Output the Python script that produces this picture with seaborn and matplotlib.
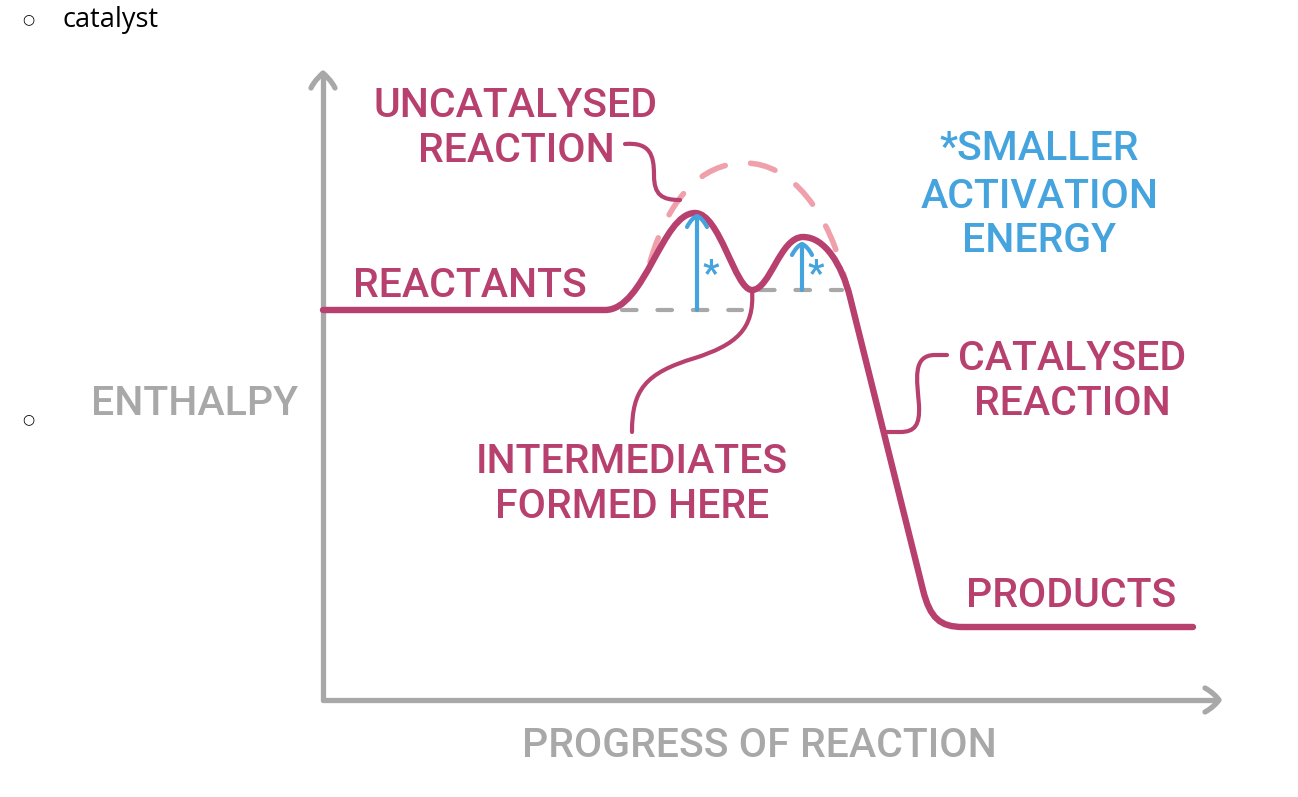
import matplotlib
matplotlib.use("Agg")
import matplotlib.pyplot as plt
import seaborn as sns
import numpy as np
import pandas as pd
from matplotlib.path import Path
from matplotlib.patches import PathPatch

# ---------------- data (picture coordinates, px, y downwards) ----------------
# catalysed reaction profile: key levels
reactant_level = 310
first_peak = (695, 213)
intermediate_dip = (752, 290)
second_peak = (803, 237)
product_level = 627
profile_start_x = 323
profile_end_x = 1193

# uncatalysed (dashed) hump
uncat_start = (650, 262)
uncat_peak = (745, 163)
uncat_end = (847, 288)

# activation-energy arrows (x, base, tip)
arrow_x = [697, 802]
arrow_base = [310, 290]
arrow_tip = [216, 244]

# labels
label_text = ["UNCATALYSED", "REACTION", "REACTANTS", "INTERMEDIATES", "FORMED HERE",
              "CATALYSED", "REACTION", "PRODUCTS"]
label_x = [516, 516, 470, 632, 632, 1072, 1072, 1071]
label_base = [117, 162, 297, 473, 518, 370, 415, 607]

note_text = ["*SMALLER", "ACTIVATION", "ENERGY"]
note_x = [1039, 1040, 1039]
note_base = [160, 208, 252]

axis_text = ["ENTHALPY", "PROGRESS OF REACTION"]
axis_text_x = [195, 759]
axis_text_base = [415, 757]

# ---------------- styles ----------------
MAG = "#b8406e"
PINK = "#f0a0aa"
BLUE = "#45a3dd"
GREY = "#a8a8a8"
FONT = ["Roboto", "DejaVu Sans"]

sns.set_theme(style="white")
plt.rcParams["font.family"] = FONT

fig = plt.figure(figsize=(12.98, 7.97), dpi=100)
ax = fig.add_axes([0, 0, 1, 1])
ax.set_xlim(0, 1298)
ax.set_ylim(797, 0)
ax.axis("off")


def line(xs, ys, color, lw, ls="-", z=2):
    df = pd.DataFrame({"x": xs, "y": ys})
    sns.lineplot(data=df, x="x", y="y", sort=False, estimator=None, color=color,
                 lw=lw, linestyle=ls, solid_capstyle="round", dash_capstyle="round",
                 solid_joinstyle="round", ax=ax, zorder=z)


def bez(verts, codes, color, lw, ls="-", z=3):
    p = PathPatch(Path(verts, codes), facecolor="none", edgecolor=color, lw=lw,
                  linestyle=ls, capstyle="round", joinstyle="round", zorder=z)
    ax.add_patch(p)


M, L, C = Path.MOVETO, Path.LINETO, Path.CURVE4

# ---------------- axes with arrowheads ----------------
line([323, 323], [700, 75], GREY, 3.8)
line([323, 1216], [700, 700], GREY, 3.8)
bez([(311, 88), (315, 80), (320, 76), (323, 73), (326, 76), (331, 80), (335, 88)],
    [M, C, C, C, C, C, C], GREY, 3.8)
bez([(1205, 688), (1212, 692), (1216, 696), (1219, 700), (1216, 704), (1212, 708), (1205, 712)],
    [M, C, C, C, C, C, C], GREY, 3.8)

# ---------------- grey dashed reference levels ----------------
line([622, 742], [reactant_level, reactant_level], GREY, 3.0, ls=(0, (3.5, 5.0)), z=1)
line([760, 842], [intermediate_dip[1], intermediate_dip[1]], GREY, 3.0, ls=(0, (3.5, 5.0)), z=1)

# ---------------- uncatalysed dashed hump ----------------
bez([uncat_start, (668, 200), (700, uncat_peak[1]), uncat_peak,
     (790, uncat_peak[1]), (830, 210), uncat_end],
    [M, C, C, C, C, C, C], PINK, 4.0, ls=(0, (4.6, 4.6)), z=2)

# ---------------- catalysed profile ----------------
fx, fy = first_peak
dx, dy = intermediate_dip
sx, sy = second_peak
verts = [(profile_start_x, reactant_level), (605, reactant_level),
         (645, reactant_level), (662, fy), (fx, fy),
         (720, fy), (735, dy), (dx, dy),
         (770, dy), (780, sy), (sx, sy),
         (825, sy), (842, 265), (850, 297),
         (923, 590),
         (930, 618), (940, product_level), (963, product_level),
         (profile_end_x, product_level)]
codes = [M, L, C, C, C, C, C, C, C, C, C, C, C, C, L, C, C, C, L]
bez(verts, codes, MAG, 4.6, z=4)

# ---------------- leader lines ----------------
bez([(625, 144), (650, 142), (654, 155), (654, 175), (654, 195), (662, 200), (680, 200)],
    [M, C, C, C, C, C, C], MAG, 3.0)
bez([(dx, dy), (755, 330), (735, 345), (695, 358), (645, 373), (632, 390), (632, 432)],
    [M, C, C, C, C, C, C], MAG, 3.0)
bez([(885, 432), (900, 432), (915, 432), (920, 425), (919, 405), (917, 380), (912, 355),
     (935, 355), (947, 355)],
    [M, L, C, C, C, C, C, C, L], MAG, 3.0)

# ---------------- activation arrows ----------------
for x0, b, t in zip(arrow_x, arrow_base, arrow_tip):
    line([x0, x0], [b, t + 2], BLUE, 3.0, z=5)
    bez([(x0 - 10, t + 11), (x0 - 7, t + 5), (x0 - 3, t + 1), (x0, t),
         (x0 + 3, t + 1), (x0 + 7, t + 5), (x0 + 10, t + 11)],
        [M, C, C, C, C, C, C], BLUE, 3.0, z=5)
    ax.text(x0 + 14, 285, "*", color=BLUE, fontsize=26, fontweight="bold",
            ha="center", va="baseline", zorder=6)

# ---------------- texts ----------------
FS = 29.5
for t, x0, yb in zip(label_text, label_x, label_base):
    ax.text(x0, yb, t, color=MAG, fontsize=FS, fontweight="medium",
            ha="center", va="baseline")
for t, x0, yb in zip(note_text, note_x, note_base):
    ax.text(x0, yb, t, color=BLUE, fontsize=FS, fontweight="medium",
            ha="center", va="baseline")
for t, x0, yb in zip(axis_text, axis_text_x, axis_text_base):
    ax.text(x0, yb, t, color=GREY, fontsize=FS, fontweight="medium",
            ha="center", va="baseline")

# bullet list fragments
ax.text(28, 19, "○", color="black", fontsize=10, ha="center", va="center",
        family=["DejaVu Sans"])
ax.text(28, 419, "○", color="black", fontsize=10, ha="center", va="center",
        family=["DejaVu Sans"])
ax.text(62, 27, "catalyst", color="black", fontsize=19.5, ha="left", va="baseline",
        family=["Open Sans", "DejaVu Sans"])

fig.savefig("out.png", dpi=100)
